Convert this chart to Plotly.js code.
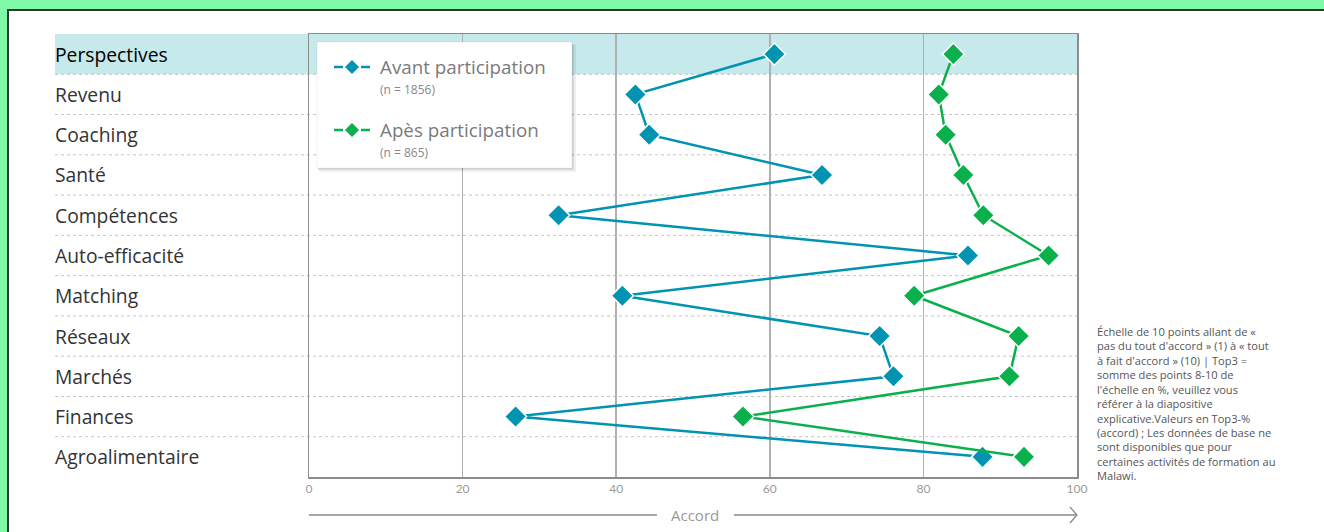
<!DOCTYPE html>
<html>
<head>
<meta charset="utf-8">
<script src="https://cdn.plot.ly/plotly-3.0.1.min.js"></script>
<style>
  html, body { margin: 0; padding: 0; background: #80F9A8; }
  #frame { position: absolute; left: 7px; top: 9px; width: 1330px; height: 540px;
           background: #ffffff; border-top: 2px solid #2b3a30; border-left: 2px solid #2b3a30; }
  #chart { position: absolute; left: 0; top: 0; width: 1324px; height: 532px; }
</style>
</head>
<body>
<div id="frame"></div>
<div id="chart"></div>
<script>
const categories = ["Perspectives", "Revenu", "Coaching", "Santé", "Compétences", "Auto-efficacité",
                    "Matching", "Réseaux", "Marchés", "Finances", "Agroalimentaire"];
const avantValues = [60.6, 42.5, 44.3, 66.8, 32.5, 85.8, 40.8, 74.3, 76.1, 26.9, 87.7];
const apresValues = [83.9, 82.0, 82.9, 85.2, 87.8, 96.3, 78.8, 92.4, 91.2, 56.5, 93.1];
const seriesNames = ["Avant participation", "Apès participation"];
const sampleSizes = ["(n = 1856)", "(n = 865)"];
const xTicks = [0, 20, 40, 60, 80, 100];
const axisTitle = "Accord";
const noteText = "Échelle de 10 points allant de «<br>pas du tout d'accord » (1) à « tout<br>à fait d'accord » (10) | Top3 =<br>somme des points 8-10 de<br>l'échelle en %, veuillez vous<br>référer à la diapositive<br>explicative.Valeurs en Top3-%<br>(accord) ; Les données de base ne<br>sont disponibles que pour<br>certaines activités de formation au<br>Malawi.";

const BLUE = "#0093B2";
const GREEN = "#0AB04B";
const W = 1324, H = 532;
const M = {l: 309, r: 247, t: 34, b: 55};
const PW = W - M.l - M.r, PH = H - M.t - M.b;
const px = x => (x - M.l) / PW;          // pixel -> paper x
const py = y => 1 - (y - M.t) / PH;      // pixel -> paper y
const FONT = "'Open Sans', Lato, sans-serif";
const n = categories.length;

const traces = [
  {x: avantValues, y: categories, name: seriesNames[0], type: "scatter", mode: "lines+markers",
   line: {color: BLUE, width: 2.5},
   marker: {symbol: "diamond", size: 17, color: BLUE, line: {color: "#ffffff", width: 1.5}},
   showlegend: false, hoverinfo: "x+y"},
  {x: apresValues, y: categories, name: seriesNames[1], type: "scatter", mode: "lines+markers",
   line: {color: GREEN, width: 2.5},
   marker: {symbol: "diamond", size: 17, color: GREEN, line: {color: "#ffffff", width: 1.5}},
   showlegend: false, hoverinfo: "x+y"}
];

const shapes = [];
const labelLeft = px(55);
// highlight band for first row
shapes.push({type: "rect", xref: "paper", yref: "paper", x0: labelLeft, x1: 1, y0: 1 - 1 / n, y1: 1,
             fillcolor: "#C6E9EB", line: {width: 0}, layer: "below"});
// dotted row separators
for (let k = 1; k < n; k++) {
  shapes.push({type: "line", xref: "paper", yref: "paper", x0: labelLeft, x1: 1, y0: 1 - k / n, y1: 1 - k / n,
               line: {color: "#c4c4c4", width: 1, dash: "dot"}, layer: "below"});
}
// legend box with shadow
shapes.push({type: "rect", xref: "paper", yref: "paper", x0: px(319), x1: px(576), y0: py(172), y1: py(45),
             fillcolor: "rgba(0,0,0,0.06)", line: {width: 0}, layer: "above"});
shapes.push({type: "rect", xref: "paper", yref: "paper", x0: px(318), x1: px(574), y0: py(170), y1: py(44),
             fillcolor: "rgba(0,0,0,0.10)", line: {width: 0}, layer: "above"});
shapes.push({type: "rect", xref: "paper", yref: "paper", x0: px(317), x1: px(572), y0: py(168), y1: py(42),
             fillcolor: "#ffffff", line: {color: "rgba(0,0,0,0.06)", width: 1}, layer: "above"});
// legend symbols
const legY = [67, 130];
const legCol = [BLUE, GREEN];
for (let i = 0; i < 2; i++) {
  shapes.push({type: "line", xref: "paper", yref: "paper", x0: px(334), x1: px(343), y0: py(legY[i]), y1: py(legY[i]),
               line: {color: legCol[i], width: 2.5}, layer: "above"});
  shapes.push({type: "line", xref: "paper", yref: "paper", x0: px(361), x1: px(370), y0: py(legY[i]), y1: py(legY[i]),
               line: {color: legCol[i], width: 2.5}, layer: "above"});
  shapes.push({type: "path", xref: "paper", yref: "paper", xsizemode: "pixel", ysizemode: "pixel",
               xanchor: px(352), yanchor: py(legY[i]), path: "M -7 0 L 0 7 L 7 0 L 0 -7 Z",
               fillcolor: legCol[i], line: {width: 0}, layer: "above"});
}
// axis title arrow
shapes.push({type: "line", xref: "paper", yref: "paper", x0: 0, x1: px(657), y0: py(515), y1: py(515),
             line: {color: "#8a8a8a", width: 1.3}});
shapes.push({type: "line", xref: "paper", yref: "paper", x0: px(734), x1: 1, y0: py(515), y1: py(515),
             line: {color: "#8a8a8a", width: 1.3}});
shapes.push({type: "path", xref: "paper", yref: "paper", xsizemode: "pixel", ysizemode: "pixel",
             xanchor: 1, yanchor: py(515), path: "M -7 8 L 0 0 L -7 -8",
             line: {color: "#8a8a8a", width: 1.3}});

const annotations = [];
categories.forEach((c, i) => {
  annotations.push({xref: "paper", yref: "y", x: px(53), y: c, text: c, showarrow: false,
                    xanchor: "left", yanchor: "middle",
                    font: {family: FONT, size: 19.3, color: i === 0 ? "#000000" : "#333333"}});
});
for (let i = 0; i < 2; i++) {
  annotations.push({xref: "paper", yref: "paper", x: px(378), y: py(legY[i]), text: seriesNames[i],
                    showarrow: false, xanchor: "left", yanchor: "middle",
                    font: {family: FONT, size: 18.8, color: "#7a7a7a"}});
  annotations.push({xref: "paper", yref: "paper", x: px(378), y: py(legY[i] + 22), text: sampleSizes[i],
                    showarrow: false, xanchor: "left", yanchor: "middle",
                    font: {family: FONT, size: 12, color: "#888888"}});
}
annotations.push({xref: "paper", yref: "paper", x: px(695), y: py(515), text: axisTitle, showarrow: false,
                  xanchor: "center", yanchor: "middle", font: {family: FONT, size: 15, color: "#999999"}});
annotations.push({xref: "paper", yref: "paper", x: px(1095), y: py(322), text: noteText, showarrow: false,
                  xanchor: "left", yanchor: "top", align: "left",
                  font: {family: FONT, size: 11.1, color: "#555555"}});

const layout = {
  width: W, height: H,
  margin: M,
  paper_bgcolor: "rgba(0,0,0,0)",
  plot_bgcolor: "rgba(0,0,0,0)",
  showlegend: false,
  xaxis: {range: [0, 100], tickvals: xTicks, ticktext: xTicks.map(String), showgrid: true,
          gridcolor: "#b0b0b0", gridwidth: 1.5, zeroline: false, showline: true, mirror: true,
          linecolor: "#8c8c8c", linewidth: 1.5, ticks: "",
          tickfont: {family: "Lato, sans-serif", size: 12, color: "#9a9a9a"}, fixedrange: true},
  yaxis: {type: "category", categoryorder: "array", categoryarray: categories,
          range: [n - 0.5, -0.5], showticklabels: false, showgrid: false, zeroline: false,
          showline: true, mirror: true, linecolor: "#8c8c8c", linewidth: 1.5, ticks: "", fixedrange: true},
  shapes: shapes,
  annotations: annotations,
  font: {family: FONT}
};

Plotly.newPlot("chart", traces, layout, {displayModeBar: false, staticPlot: true});
</script>
</body>
</html>
